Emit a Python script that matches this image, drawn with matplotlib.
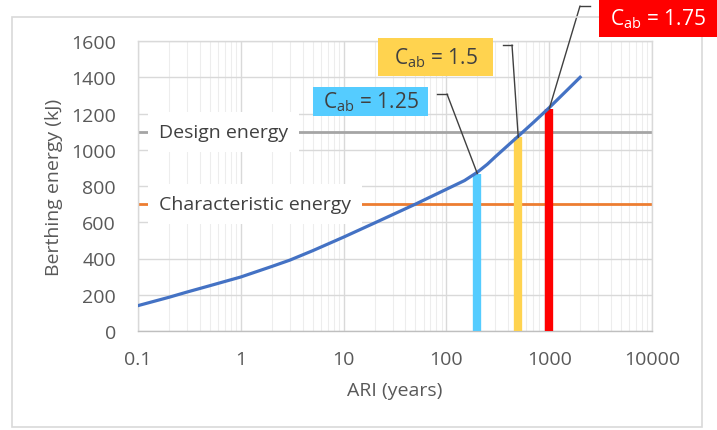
import matplotlib
matplotlib.use("Agg")
import matplotlib.pyplot as plt
from matplotlib.lines import Line2D
from matplotlib.patches import Rectangle
from matplotlib.ticker import LogLocator, FixedLocator, NullFormatter

plt.rcParams['font.family'] = ['Open Sans', 'DejaVu Sans']
plt.rcParams['mathtext.fontset'] = 'custom'
plt.rcParams['mathtext.rm'] = 'Open Sans'
plt.rcParams['mathtext.it'] = 'Open Sans:italic'

# berthing energy against return interval
ari = [0.1, 0.2, 0.3, 0.5, 1, 2, 3, 5, 10, 20, 30, 50, 100, 150, 200,
       250, 300, 500, 700, 1000, 1500, 2000]
energy = [140, 186, 215, 250, 298, 356, 391, 443, 518, 596, 642, 700, 782,
          830, 876, 920, 962, 1075, 1150, 1232, 1330, 1400]

characteristic_energy = 700
design_energy = 1100

# abnormal-impact factor bars
cab_ari = [200, 500, 1000]
cab_energy = [868, 1068, 1225]
cab_labels = ['1.25', '1.5', '1.75']
cab_colors = ['#55CCFF', '#FFD34F', '#FF0000']
cab_textcolors = ['#404040', '#404040', 'white']

W, H = 717, 431
fig = plt.figure(figsize=(W / 100, H / 100), dpi=100)
fig.patches.append(Rectangle((12 / W, 3 / H), 690 / W, 410 / H,
                             transform=fig.transFigure, fill=False,
                             edgecolor='#D9D9D9', linewidth=1.2))

ax = fig.add_axes([138 / W, (H - 332) / H, (652 - 138) / W, (332 - 42) / H])
ax.set_xscale('log')
ax.set_xlim(0.1, 10000)
ax.set_ylim(0, 1600)

ax.xaxis.set_major_locator(FixedLocator([0.1, 1, 10, 100, 1000, 10000]))
ax.set_xticklabels(['0.1', '1', '10', '100', '1000', '10000'])
ax.xaxis.set_minor_locator(LogLocator(base=10, subs=range(2, 10), numticks=20))
ax.xaxis.set_minor_formatter(NullFormatter())
ax.set_yticks(range(0, 1601, 200))

ax.grid(True, which='major', color='#D9D9D9', linewidth=1.0)
ax.grid(True, which='minor', axis='x', color='#EDEDED', linewidth=0.8)
ax.set_axisbelow(True)
for s in ax.spines.values():
    s.set_color('#D9D9D9')
    s.set_linewidth(1.0)
ax.spines['bottom'].set_color('#BFBFBF')
ax.tick_params(which='both', length=0, colors='#595959', labelsize=14)
ax.tick_params(axis='y', pad=16)
ax.tick_params(axis='x', pad=14)

ax.set_xlabel('ARI (years)', color='#595959', fontsize=14, labelpad=9)
ax.set_ylabel('Berthing energy (kJ)', color='#595959', fontsize=14, labelpad=6)

ax.axhline(design_energy, color='#A5A5A5', linewidth=2, zorder=2)
ax.axhline(characteristic_energy, color='#ED7D31', linewidth=2, zorder=2)

for y, name in [(design_energy, 'Design energy'),
                (characteristic_energy, 'Characteristic energy')]:
    ax.text(0.16, y, name, color='#404040', fontsize=14, va='center',
            ha='left', zorder=3,
            bbox=dict(facecolor='white', edgecolor='none', pad=8))

for x, e, c in zip(cab_ari, cab_energy, cab_colors):
    ax.plot([x, x], [0, e], color=c, linewidth=6, solid_capstyle='butt', zorder=4)

ax.plot(ari, energy, color='#4472C4', linewidth=2.3, zorder=5)

# label boxes in figure pixels: (left, top, right, bottom), elbow start, elbow end
boxes = [((313, 88, 428, 117), (437, 95), (447, 95)),
         ((378, 39, 493, 77), (503, 46), (512, 46)),
         ((599, 0, 717, 38), (590, 7), (580, 7))]
for (box, (sx, sy), (ex, ey)), x, e, lab, c, tc in zip(
        boxes, cab_ari, cab_energy, cab_labels, cab_colors, cab_textcolors):
    l, t, r, b = box
    fig.patches.append(Rectangle((l / W, 1 - b / H), (r - l) / W, (b - t) / H,
                                 transform=fig.transFigure, facecolor=c,
                                 edgecolor='none'))
    fig.text((l + r) / 2 / W, 1 - (t + b) / 2 / H,
             r'C$_{\mathrm{ab}}$ = ' + lab, color=tc, fontsize=15,
             ha='center', va='center')
    fig.lines.append(Line2D([sx / W, ex / W], [1 - sy / H, 1 - ey / H],
                            transform=fig.transFigure, color='#404040',
                            linewidth=1))
    ax.annotate('', xy=(x, e), xycoords='data',
                xytext=(ex / W, 1 - ey / H), textcoords='figure fraction',
                arrowprops=dict(arrowstyle='-', color='#404040', linewidth=1,
                                shrinkA=0, shrinkB=0), zorder=6)

fig.savefig('out.png', dpi=100)
